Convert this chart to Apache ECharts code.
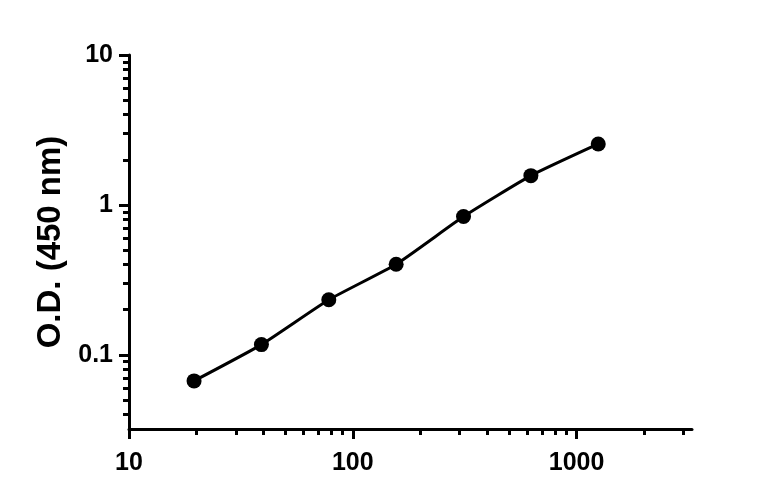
<!DOCTYPE html>
<html>
<head>
<meta charset="utf-8">
<script src="https://cdn.jsdelivr.net/npm/echarts@6/dist/echarts.min.js"></script>
<style>
  html, body { margin: 0; padding: 0; background: #fff; }
  #main { width: 768px; height: 502px; }
</style>
</head>
<body>
<div id="main"></div>
<script>
// concentrations (x) and O.D. readings (y)
var conc = [19.53, 39.06, 78.13, 156.25, 312.5, 625, 1250];
var od = [0.067, 0.117, 0.233, 0.402, 0.836, 1.567, 2.55];

// tick values
var xMajor = [10, 100, 1000];
var xMinor = [20, 30, 40, 50, 60, 70, 80, 90, 200, 300, 400, 500, 600, 700, 800, 900, 2000, 3000];
var yMajor = [0.1, 1, 10];
var yMinor = [0.04, 0.05, 0.06, 0.07, 0.08, 0.09, 0.2, 0.3, 0.4, 0.5, 0.6, 0.7, 0.8, 0.9, 2, 3, 4, 5, 6, 7, 8, 9];

var xMin = 10, xMax = 3280;
var yMin = 0.032, yMax = 10;

var font = '"Liberation Sans", Arial, sans-serif';
var black = '#000';

var myChart = echarts.init(document.getElementById('main'));

var points = conc.map(function (c, i) { return [c, od[i]]; });

myChart.setOption({
  animation: false,
  grid: { left: 129, right: 76, top: 55, bottom: 73, containLabel: false },
  xAxis: [
    {
      type: 'log', logBase: 10, min: xMin, max: xMax,
      axisLine: { show: true, lineStyle: { color: black, width: 3 } },
      axisTick: { show: true, customValues: xMajor, length: 10, lineStyle: { color: black, width: 3 } },
      axisLabel: {
        customValues: xMajor, margin: 22, color: black,
        fontFamily: font, fontWeight: 'bold', fontSize: 25,
        formatter: function (v) { return String(v); }
      },
      splitLine: { show: false }
    },
    {
      type: 'log', logBase: 10, min: xMin, max: xMax, position: 'bottom',
      axisLine: { show: false },
      axisTick: { show: true, customValues: xMinor, length: 6, lineStyle: { color: black, width: 3 } },
      axisLabel: { show: false },
      splitLine: { show: false }
    }
  ],
  yAxis: [
    {
      type: 'log', logBase: 10, min: yMin, max: yMax,
      name: 'O.D. (450 nm)', nameLocation: 'middle', nameGap: 62,
      nameTextStyle: { color: black, fontFamily: font, fontWeight: 'bold', fontSize: 33 },
      axisLine: { show: true, lineStyle: { color: black, width: 3 } },
      axisTick: { show: true, customValues: yMajor, length: 10, lineStyle: { color: black, width: 3 } },
      axisLabel: {
        customValues: yMajor, margin: 16, color: black,
        fontFamily: font, fontWeight: 'bold', fontSize: 25,
        formatter: function (v) { return String(v); }
      },
      splitLine: { show: false }
    },
    {
      type: 'log', logBase: 10, min: yMin, max: yMax, position: 'left',
      axisLine: { show: false },
      axisTick: { show: true, customValues: yMinor, length: 6, lineStyle: { color: black, width: 3 } },
      axisLabel: { show: false },
      splitLine: { show: false }
    }
  ],
  series: [
    {
      type: 'line',
      xAxisIndex: 0, yAxisIndex: 0,
      data: points,
      smooth: 0.15,
      symbol: 'circle', symbolSize: 15,
      lineStyle: { color: black, width: 3 },
      itemStyle: { color: black }
    }
  ]
});
</script>
</body>
</html>
